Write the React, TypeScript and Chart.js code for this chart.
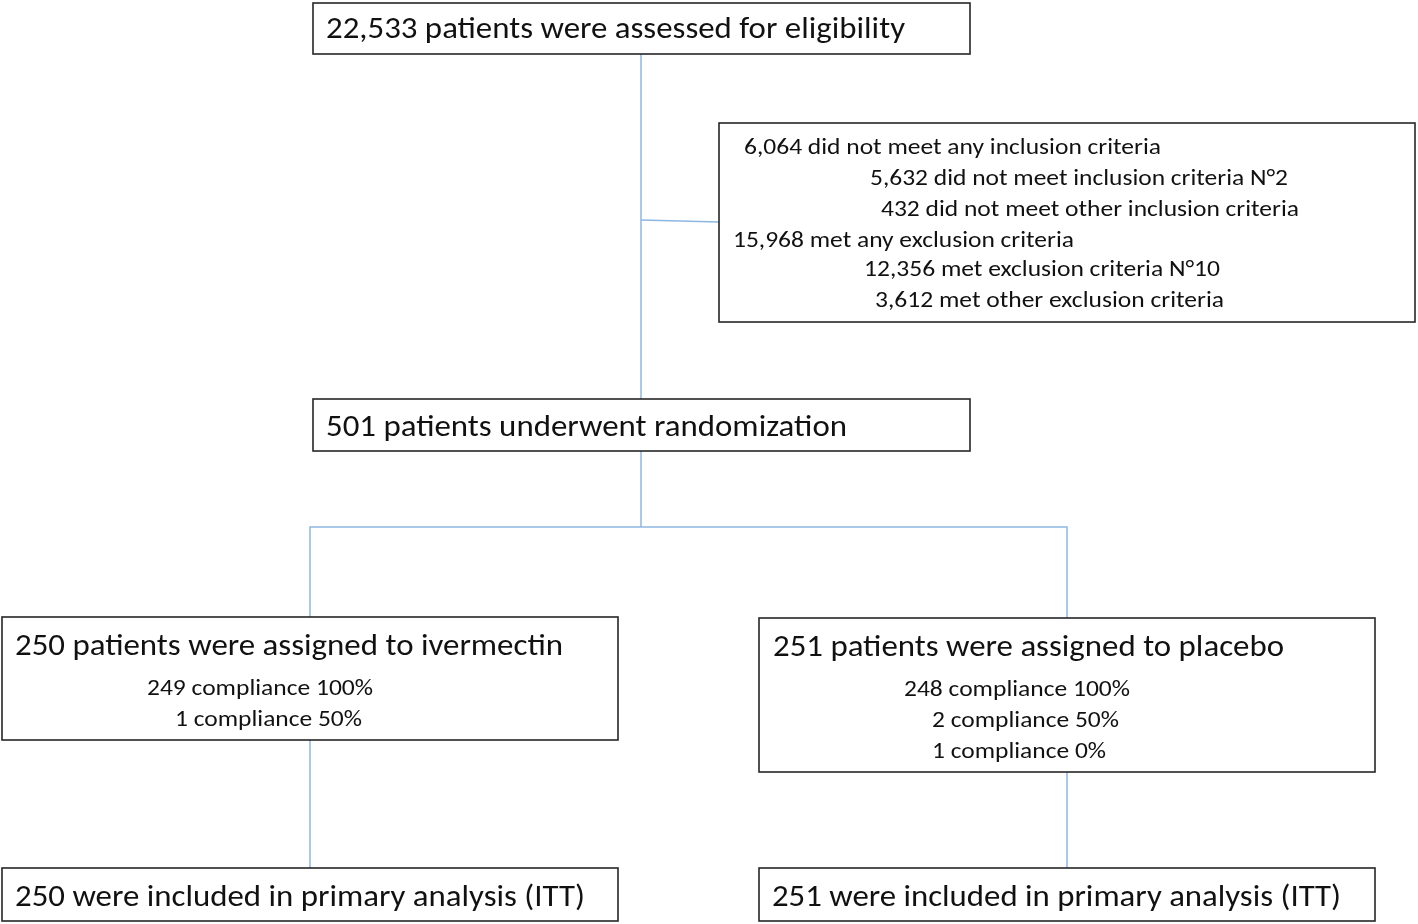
import React, { useEffect, useRef } from "react";
import { Chart, registerables } from "chart.js";

Chart.register(...registerables);

// ---- Data ----
const assessedCount = 22533;
const randomizedCount = 501;
const exclusionCounts = [6064, 5632, 432, 15968, 12356, 3612];
const exclusionLabels = [
  "did not meet any inclusion criteria",
  "did not meet inclusion criteria N°2",
  "did not meet other inclusion criteria",
  "met any exclusion criteria",
  "met exclusion criteria N°10",
  "met other exclusion criteria",
];
const armNames = ["ivermectin", "placebo"];
const armCounts = [250, 251];
const complianceLevels = ["100%", "50%", "0%"];
const ivermectinCompliance = [249, 1];
const placeboCompliance = [248, 2, 1];
const analysisCounts = [250, 251];

const fmt = (n: number) => n.toLocaleString("en-US");

// ---- Layout (pixel-space of the scales) ----
const W = 1418;
const H = 924;
const FONT = "Carlito, Calibri, Lato, 'Open Sans', sans-serif";
const LINE_COLOR = "#8db7e3";
const BOX_COLOR = "#262626";
const BIG = 30;
const SMALL = 21.5;

const boxes = [
  [313, 3, 970, 54],
  [719, 123, 1415, 322],
  [313, 399, 970, 451],
  [2, 617, 618, 740],
  [759, 618, 1375, 772],
  [2, 868, 618, 921],
  [759, 868, 1375, 921],
];

const connectors = [
  [[641, 54], [641, 399]],
  [[641, 220], [719, 222]],
  [[641, 451], [641, 527]],
  [[310, 617], [310, 527], [1067, 527], [1067, 618]],
  [[310, 740], [310, 868]],
  [[1067, 772], [1067, 868]],
];

// text anchors: [left x, baseline y, width]
const topPos = [326, 38, 579];
const exPos = [
  [744, 154, 417],
  [870, 185, 418],
  [881, 216, 418],
  [733, 247, 341],
  [864, 276, 356],
  [875, 307, 349],
];
const randPos = [326, 436, 521];
const armPos = [
  [15, 655, 548],
  [773, 656, 511],
];
const ivPos = [
  [147, 695, 226],
  [175, 726, 187],
];
const plPos = [
  [904, 696, 226],
  [932, 727, 187],
  [932, 758, 174],
];
const analysisPos = [
  [15, 906, 570],
  [772, 906, 569],
];

type TextItem = { text: string; pos: number[]; size: number };

function buildTexts(): TextItem[] {
  const t: TextItem[] = [];
  t.push({ text: `${fmt(assessedCount)} patients were assessed for eligibility`, pos: topPos, size: BIG });
  exclusionCounts.forEach((c, i) => {
    t.push({ text: `${fmt(c)} ${exclusionLabels[i]}`, pos: exPos[i], size: SMALL });
  });
  t.push({ text: `${randomizedCount} patients underwent randomization`, pos: randPos, size: BIG });
  armCounts.forEach((c, i) => {
    t.push({ text: `${c} patients were assigned to ${armNames[i]}`, pos: armPos[i], size: BIG });
  });
  ivermectinCompliance.forEach((c, i) => {
    t.push({ text: `${c} compliance ${complianceLevels[i]}`, pos: ivPos[i], size: SMALL });
  });
  placeboCompliance.forEach((c, i) => {
    t.push({ text: `${c} compliance ${complianceLevels[i]}`, pos: plPos[i], size: SMALL });
  });
  analysisCounts.forEach((c, i) => {
    t.push({ text: `${c} were included in primary analysis (ITT)`, pos: analysisPos[i], size: BIG });
  });
  return t;
}

const flowPlugin = {
  id: "flowBoxes",
  afterDatasetsDraw(chart: any) {
    const { ctx, scales } = chart;
    const xs = scales.x;
    const ys = scales.y;
    ctx.save();
    ctx.strokeStyle = BOX_COLOR;
    ctx.lineWidth = 1.6;
    boxes.forEach(([x0, y0, x1, y1]) => {
      const px0 = xs.getPixelForValue(x0);
      const px1 = xs.getPixelForValue(x1);
      const py0 = ys.getPixelForValue(y0);
      const py1 = ys.getPixelForValue(y1);
      ctx.strokeRect(px0, py0, px1 - px0, py1 - py0);
    });
    ctx.fillStyle = "#111";
    ctx.textBaseline = "alphabetic";
    ctx.textAlign = "left";
    buildTexts().forEach((it) => {
      const [x, y, w] = it.pos;
      ctx.font = `${it.size}px ${FONT}`;
      const m = ctx.measureText(it.text).width;
      const px = xs.getPixelForValue(x);
      const pw = xs.getPixelForValue(x + w) - px;
      const py = ys.getPixelForValue(y);
      const sx = pw / m;
      ctx.save();
      ctx.translate(px, py);
      ctx.scale(sx, 1);
      ctx.fillText(it.text, 0, 0);
      ctx.restore();
    });
    ctx.restore();
  },
};

export default function App() {
  const ref = useRef<HTMLCanvasElement | null>(null);
  useEffect(() => {
    if (!ref.current) return;
    const chart = new Chart(ref.current, {
      type: "scatter",
      data: {
        datasets: connectors.map((pts) => ({
          data: pts.map(([x, y]) => ({ x, y })),
          showLine: true,
          borderColor: LINE_COLOR,
          borderWidth: 1.5,
          pointRadius: 0,
          fill: false,
          tension: 0,
        })),
      },
      options: {
        animation: false,
        responsive: false,
        maintainAspectRatio: false,
        devicePixelRatio: 1,
        layout: { padding: 0 },
        events: [],
        scales: {
          x: { type: "linear", min: 0, max: W, display: false },
          y: { type: "linear", min: 0, max: H, reverse: true, display: false },
        },
        plugins: { legend: { display: false }, tooltip: { enabled: false } },
      },
      plugins: [flowPlugin],
    });
    return () => chart.destroy();
  }, []);
  return (
    <div style={{ position: "absolute", left: 0, top: 0, width: W, height: H, background: "#fff" }}>
      <canvas ref={ref} width={W} height={H} style={{ width: W, height: H, display: "block" }} />
    </div>
  );
}
